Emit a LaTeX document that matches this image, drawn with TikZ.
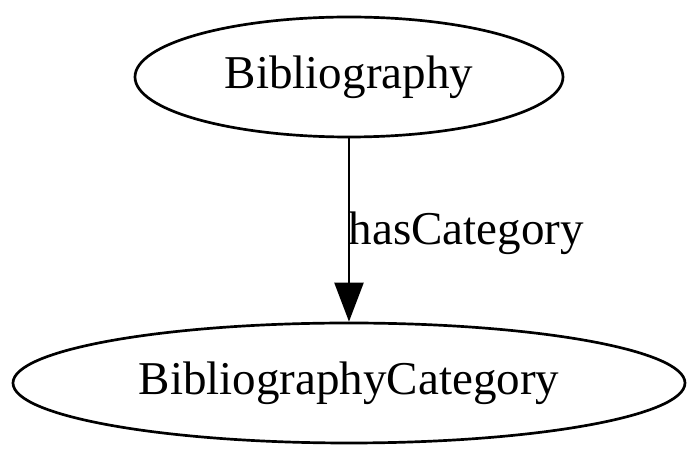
\documentclass[tikz,border=0pt]{standalone}
\usepackage{fontspec}
\setmainfont{Liberation Serif}
\usetikzlibrary{arrows.meta,positioning,shapes.geometric}
\tikzset{
    concept/.style={
        draw,ellipse,line width=0.8pt,inner sep=0pt,
        font=\fontsize{14}{17}\selectfont
    },
    arrow/.style={
        -{Triangle[length=11.6pt,width=8.6pt]},line width=0.8pt
    },
    edgelabel/.style={
        font=\fontsize{14}{17}\selectfont,inner sep=0pt
    }
}
\begin{document}
\begin{tikzpicture}[x=0.2976pt,y=-0.2976pt]
\useasboundingbox (0,0) rectangle (700,459);

\node[concept,minimum width=428*0.2976pt,minimum height=120*0.2976pt]
(bib) at (349,77){Bibliography};

\node[concept,minimum width=672*0.2976pt,minimum height=120*0.2976pt]
(cat) at (349,383){BibliographyCategory};

\draw[arrow](bib)--(cat);

\node[edgelabel,anchor=base west]
(lbl) at (348,245){hasCategory};

\end{tikzpicture}
\end{document}
